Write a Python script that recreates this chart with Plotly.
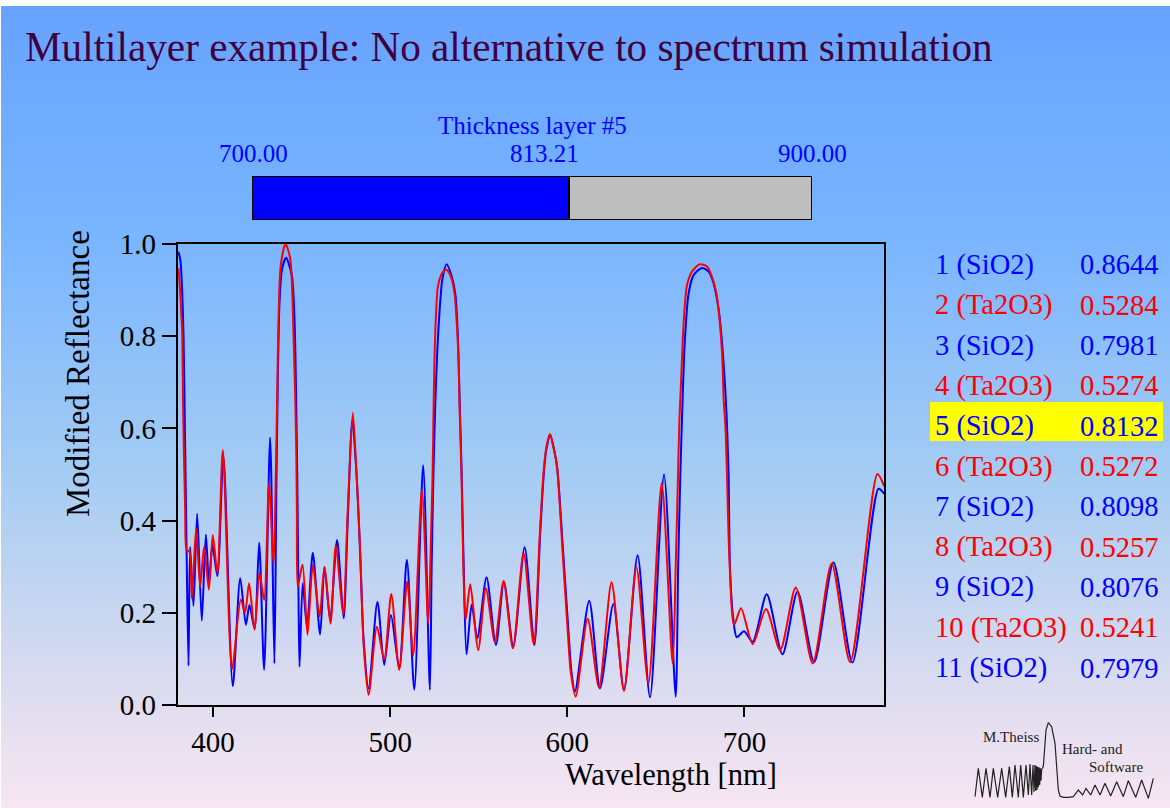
import plotly.graph_objects as go

W, H = 1170, 808

title_text = "Multilayer example: No alternative to spectrum simulation"
slider_title = "Thickness layer #5"
slider_min, slider_val, slider_max = 700.00, 813.21, 900.00

layer_names = ["1 (SiO2)", "2 (Ta2O3)", "3 (SiO2)", "4 (Ta2O3)", "5 (SiO2)", "6 (Ta2O3)",
               "7 (SiO2)", "8 (Ta2O3)", "9 (SiO2)", "10 (Ta2O3)", "11 (SiO2)"]
layer_values = ["0.8644", "0.5284", "0.7981", "0.5274", "0.8132", "0.5272",
                "0.8098", "0.5257", "0.8076", "0.5241", "0.7979"]

blue_x = [380.4, 381.5, 382.5, 383.3, 384.0, 385.0, 386.1, 387.0, 388.9, 391.0, 393.6, 395.9, 397.7, 399.6, 402.4,
          405.8, 411.1, 415.3, 418.5, 420.5, 423.4, 426.0, 428.8, 432.2, 434.6, 435.8, 437.5, 439.0, 441.2, 444.4,
          446.0, 446.9, 447.5, 448.2, 448.8, 450.6, 453.0, 456.3, 460.4, 462.9, 466.1, 470.0, 473.7, 476.0, 478.6,
          481.0, 483.0, 485.0, 487.8, 492.8, 496.6, 500.4, 505.1, 509.4, 513.6, 518.6, 522.4, 523.4, 524.4, 525.5,
          526.5, 527.8, 529.5, 531.9, 534.7, 536.8, 538.2, 539.2, 540.3, 541.5, 543.1, 546.0, 549.2, 554.4, 559.7,
          564.2, 569.5, 575.9, 581.4, 584.6, 586.6, 588.1, 590.4, 592.5, 594.4, 597.7, 600.6, 602.4, 604.3, 612.4,
          618.5, 626.0, 632.0, 639.7, 646.7, 654.6, 661.2, 662.6, 663.8, 664.8, 666.3, 668.5, 671.4, 676.1, 679.8,
          682.6, 685.5, 687.4, 689.3, 690.2, 691.1, 691.9, 693.8, 695.7, 699.8, 704.7, 712.6, 721.5, 730.0, 739.4,
          750.3, 761.0, 775.7, 779.0]
blue_y = [0.983, 0.965, 0.90, 0.80, 0.62, 0.34, 0.085, 0.343, 0.215, 0.415, 0.183, 0.37, 0.264, 0.347, 0.28,
          0.54, 0.041, 0.275, 0.174, 0.217, 0.166, 0.352, 0.076, 0.58, 0.09, 0.50, 0.875, 0.947, 0.97, 0.933,
          0.832, 0.658, 0.499, 0.239, 0.083, 0.264, 0.17, 0.33, 0.153, 0.30, 0.184, 0.358, 0.188, 0.40, 0.618,
          0.50, 0.33, 0.14, 0.036, 0.224, 0.087, 0.195, 0.08, 0.315, 0.033, 0.52, 0.033, 0.30, 0.50, 0.66,
          0.76, 0.85, 0.925, 0.956, 0.93, 0.89, 0.80, 0.66, 0.51, 0.30, 0.11, 0.218, 0.145, 0.277, 0.13,
          0.268, 0.127, 0.342, 0.13, 0.365, 0.495, 0.553, 0.585, 0.555, 0.51, 0.329, 0.163, 0.07, 0.029, 0.226,
          0.036, 0.219, 0.033, 0.325, 0.017, 0.50, 0.018, 0.30, 0.495, 0.625, 0.785, 0.893, 0.933, 0.948, 0.94,
          0.915, 0.857, 0.785, 0.677, 0.604, 0.495, 0.293, 0.184, 0.147, 0.16, 0.137, 0.24, 0.11, 0.246, 0.093,
          0.309, 0.092, 0.469, 0.458]

red_x = [380.4, 381.0, 382.0, 382.6, 383.0, 384.2, 385.1, 386.6, 388.0, 390.4, 392.7, 394.9, 397.6, 399.8, 402.4,
         405.5, 410.7, 415.6, 418.0, 420.3, 423.4, 426.2, 428.8, 431.6, 434.1, 435.4, 436.3, 436.9, 438.2, 440.9,
         443.5, 445.4, 446.9, 447.3, 447.8, 450.5, 453.3, 456.3, 460.1, 462.9, 466.3, 469.3, 473.4, 476.0, 478.9,
         481.0, 483.0, 485.0, 487.8, 492.5, 496.6, 500.6, 505.1, 509.6, 513.0, 517.9, 521.5, 523.0, 523.9, 524.5,
         525.0, 525.8, 526.9, 529.2, 531.6, 534.3, 536.3, 537.7, 538.6, 539.2, 540.3, 541.3, 542.6, 545.2, 549.7,
         554.0, 559.1, 564.0, 569.3, 575.3, 581.0, 584.4, 586.4, 587.9, 590.2, 592.1, 594.0, 597.4, 600.2, 602.0,
         604.7, 611.5, 617.9, 625.0, 632.0, 639.0, 645.8, 653.3, 659.5, 661.2, 662.5, 663.3, 664.2, 665.2, 666.3,
         667.6, 670.4, 674.8, 678.9, 681.7, 684.2, 686.0, 687.4, 688.3, 689.3, 690.2, 691.5, 694.2, 698.1, 704.7,
         712.2, 720.2, 729.0, 738.6, 749.3, 759.7, 775.1, 779.0]
red_y = [0.947, 0.92, 0.853, 0.80, 0.658, 0.423, 0.336, 0.333, 0.231, 0.383, 0.257, 0.343, 0.25, 0.369, 0.286,
         0.553, 0.078, 0.229, 0.20, 0.264, 0.163, 0.287, 0.228, 0.481, 0.304, 0.499, 0.701, 0.831, 0.954, 1.0,
         0.969, 0.803, 0.571, 0.416, 0.257, 0.305, 0.152, 0.304, 0.192, 0.30, 0.176, 0.347, 0.197, 0.42, 0.634,
         0.50, 0.34, 0.13, 0.022, 0.17, 0.098, 0.241, 0.076, 0.268, 0.108, 0.466, 0.177, 0.36, 0.495, 0.647,
         0.748, 0.842, 0.907, 0.936, 0.944, 0.929, 0.893, 0.82, 0.748, 0.64, 0.495, 0.30, 0.184, 0.262, 0.119,
         0.253, 0.137, 0.269, 0.123, 0.329, 0.132, 0.365, 0.495, 0.553, 0.588, 0.56, 0.524, 0.329, 0.163, 0.07,
         0.018, 0.187, 0.038, 0.266, 0.031, 0.299, 0.047, 0.481, 0.09, 0.30, 0.495, 0.618, 0.698, 0.792, 0.864,
         0.911, 0.94, 0.956, 0.951, 0.929, 0.893, 0.835, 0.763, 0.662, 0.604, 0.495, 0.322, 0.174, 0.21, 0.132,
         0.208, 0.119, 0.255, 0.09, 0.307, 0.093, 0.501, 0.474]

bg_stops = [[0.0, "#66A3FF"], [0.29, "#7AB5FF"], [0.58, "#A4CCF3"], [0.87, "#E0DDF0"], [1.0, "#F8E6F2"]]

logo_x = [45, 55, 67, 78, 90, 100, 113, 125, 137, 148, 157, 165, 175, 182, 190, 198, 205, 210, 215, 219, 222, 225,
          227, 229, 231, 233, 235, 237, 239, 241, 243, 245, 250, 255, 258, 265, 275, 285, 290, 295, 300, 310, 325,
          340, 355, 368, 378, 392, 405, 420, 435, 452, 470, 490, 505, 527, 545, 565, 580]
logo_y = [260, 175, 262, 175, 262, 175, 262, 175, 262, 170, 262, 165, 262, 165, 262, 165, 255, 162, 255, 165, 245,
          165, 242, 168, 240, 170, 232, 172, 225, 175, 212, 178, 170, 110, 60, 38, 50, 100, 180, 240, 258, 262, 262,
          260, 240, 255, 235, 255, 225, 255, 220, 258, 215, 260, 212, 262, 210, 265, 205]
logo_texts = [("M.Theiss", 981, 737), ("Hard- and", 1060, 749), ("Software", 1087, 767)]


def fx(p):
    return p / W


def fy(p):
    return 1 - p / H


fig = go.Figure()

fig.add_trace(go.Heatmap(z=[[0, 0], [1, 1]], x=[0, 1], y=[0, 1], colorscale=bg_stops, zmin=0, zmax=1,
                         zsmooth="best", showscale=False, hoverinfo="skip", xaxis="x", yaxis="y"))

fig.add_trace(go.Scatter(x=blue_x, y=blue_y, mode="lines", line=dict(color="#0000FF", width=2, shape="spline", smoothing=0.75),
                         xaxis="x2", yaxis="y2", showlegend=False))
fig.add_trace(go.Scatter(x=red_x, y=red_y, mode="lines", line=dict(color="#FF0000", width=2, shape="spline", smoothing=0.75),
                         xaxis="x2", yaxis="y2", showlegend=False))

fig.add_trace(go.Bar(y=[0], x=[slider_val - slider_min], base=[slider_min], orientation="h", width=1,
                     marker=dict(color="#0000FF", line=dict(color="black", width=2)),
                     xaxis="x3", yaxis="y3", showlegend=False))
fig.add_trace(go.Bar(y=[0], x=[slider_max - slider_val], base=[slider_val], orientation="h", width=1,
                     marker=dict(color="#BEBEBE", line=dict(color="black", width=2)),
                     xaxis="x3", yaxis="y3", showlegend=False))

fig.add_trace(go.Scatter(x=logo_x, y=logo_y, mode="lines", line=dict(color="#222222", width=1.2),
                         xaxis="x4", yaxis="y4", showlegend=False))

hidden = dict(visible=False, fixedrange=True, automargin=False)
ann = []


def txt(s, x, y, size, color, xa="left", angle=0):
    ann.append(dict(text=s, x=fx(x), y=fy(y), xref="paper", yref="paper", xanchor=xa, yanchor="middle",
                    showarrow=False, textangle=angle, font=dict(family="Liberation Serif", size=size, color=color)))


txt(title_text, 23, 47, 41.2, "#400040")
txt(slider_title, 532, 125, 25, "#0000FF", "center")
txt(f"{slider_min:.2f}", 253, 154, 25, "#0000FF", "center")
txt(f"{slider_val:.2f}", 544, 154, 25, "#0000FF", "center")
txt(f"{slider_max:.2f}", 812, 154, 25, "#0000FF", "center")
txt("Modified Reflectance", 78, 374, 33, "black", "center", -90)
txt("Wavelength [nm]", 671, 775, 30.5, "black", "center")
for i, (name, val) in enumerate(zip(layer_names, layer_values)):
    col = "#0000FF" if i % 2 == 0 else "#FF0000"
    yy = 265 + i * 40.3
    txt(name, 933, yy, 28.5, col)
    txt(val, 1078, yy, 28.5, col)
for s, xx, yy in logo_texts:
    txt(s, xx, yy, 15, "#222222")

fig.update_layout(
    template="none",
    width=W, height=H, margin=dict(l=0, r=0, t=0, b=0, pad=0, autoexpand=False), paper_bgcolor="white",
    plot_bgcolor="rgba(0,0,0,0)", showlegend=False, barmode="overlay",
    xaxis=dict(hidden, domain=[fx(1), 1], range=[0, 1]),
    yaxis=dict(hidden, domain=[0, fy(6)], range=[1, 0]),
    xaxis2=dict(domain=[fx(177.7), fx(884.3)], range=[380, 779], anchor="y2", tickvals=[400, 500, 600, 700],
                ticks="outside", ticklen=10, tickwidth=2, tickcolor="black", showline=True, linecolor="black",
                linewidth=2, mirror=True, showgrid=False, zeroline=False, automargin=False,
                tickfont=dict(family="Liberation Serif", size=29, color="black")),
    yaxis2=dict(domain=[fy(705), fy(244)], range=[0, 1], anchor="x2", tickvals=[0, 0.2, 0.4, 0.6, 0.8, 1.0],
                tickformat=".1f", ticks="outside", ticklen=14, tickwidth=2, tickcolor="black", showline=True,
                linecolor="black", linewidth=2, mirror=True, showgrid=False, zeroline=False, automargin=False,
                tickfont=dict(family="Liberation Serif", size=29, color="black")),
    xaxis3=dict(hidden, domain=[fx(252), fx(812)], range=[slider_min, slider_max], anchor="y3"),
    yaxis3=dict(hidden, domain=[fy(220), fy(176)], range=[-0.5, 0.5], anchor="x3"),
    xaxis4=dict(hidden, domain=[fx(960), fx(1167)], range=[0, 621], anchor="y4"),
    yaxis4=dict(hidden, domain=[fy(808), fy(710)], range=[294, 0], anchor="x4"),
    annotations=ann,
    shapes=[dict(type="rect", xref="paper", yref="paper", x0=fx(930), x1=fx(1163), y0=fy(402), y1=fy(441),
                 fillcolor="#FFFF00", line=dict(width=0), layer="above")],
)

fig.write_html("out.html", post_script="document.body.style.margin='0';", config=dict(displayModeBar=False))
